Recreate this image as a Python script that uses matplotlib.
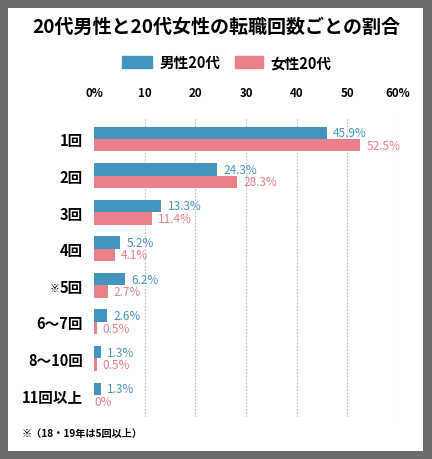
import matplotlib.pyplot as plt
from matplotlib.patches import Rectangle
import numpy as np

plt.rcParams['font.family'] = ['Noto Sans CJK JP', 'DejaVu Sans']

categories = ['1回', '2回', '3回', '4回', '※5回', '6〜7回', '8〜10回', '11回以上']
male = [45.9, 24.3, 13.3, 5.2, 6.2, 2.6, 1.3, 1.3]
female = [52.5, 28.3, 11.4, 4.1, 2.7, 0.5, 0.5, 0.0]
xticks = [0, 10, 20, 30, 40, 50, 60]
xticklabels = ['0%', '10', '20', '30', '40', '50', '60%']

blue = '#4394bf'
pink = '#ea808b'

fig = plt.figure(figsize=(4.32, 4.60), dpi=100)
fig.patch.set_facecolor('#6b6b6b')
fig.patches.append(Rectangle((8 / 432, 1 - 452 / 460), 415 / 432, 443 / 460,
                             transform=fig.transFigure, facecolor='white',
                             edgecolor='none', zorder=-5))

ax = fig.add_axes([94 / 432, 1 - 418 / 460, 304 / 432, 300 / 460])
ax.set_facecolor('none')

y = np.arange(len(categories))
h = 0.34
ax.barh(y - h / 2, male, height=h, color=blue, zorder=3)
ax.barh(y + h / 2, female, height=h, color=pink, zorder=3)

for i in range(len(categories)):
    ax.annotate(f'{male[i]:g}%', (male[i], y[i] - h / 2), xytext=(4.5, 0),
                textcoords='offset points', va='center', ha='left',
                fontsize=8.5, color='#4a95c0')
    ax.annotate(f'{female[i]:g}%', (female[i], y[i] + h / 2), xytext=(4.5 if female[i] > 0 else 0.5, 0),
                textcoords='offset points', va='center', ha='left',
                fontsize=8.5, color='#e77f8a')

ax.set_xlim(0, 60)
ax.set_ylim(len(categories) - 0.4, -0.6)
ax.set_xticks(xticks)
ax.set_xticklabels(xticklabels, fontsize=8.3, fontweight='bold')
ax.xaxis.tick_top()
ax.tick_params(axis='x', length=0, pad=13)
ax.set_yticks(y)
# the ※ mark is drawn small, apart from the label
ax.set_yticklabels([c.lstrip('※') for c in categories], fontsize=10.5, fontweight='bold')
ax.tick_params(axis='y', length=0, pad=8)
for i, c in enumerate(categories):
    if c.startswith('※'):
        ax.annotate('※', (0, y[i]), xytext=(-25, -2), textcoords='offset points',
                    ha='right', va='center', fontsize=7, fontweight='bold')
for x in xticks[1:]:
    ax.axvline(x, color='#bdbdbd', linestyle=(0, (1.5, 1.5)), linewidth=0.8, zorder=1)
for s in ax.spines.values():
    s.set_visible(False)

fig.text(0.5, 1 - 27 / 460, '20代男性と20代女性の転職回数ごとの割合', ha='center', va='center',
         fontsize=13.7, fontweight='bold')

# legend
fig.patches.append(Rectangle((122 / 432, 1 - 69 / 460), 30 / 432, 12 / 460,
                             transform=fig.transFigure, color=blue))
fig.text(160 / 432, 1 - 63 / 460, '男性20代', va='center', fontsize=10.5, fontweight='bold')
fig.patches.append(Rectangle((235 / 432, 1 - 69 / 460), 28 / 432, 12 / 460,
                             transform=fig.transFigure, color=pink))
fig.text(270 / 432, 1 - 63 / 460, '女性20代', va='center', fontsize=10.5, fontweight='bold')

fig.text(22 / 432, 1 - 434 / 460, '※（18・19年は5回以上）', va='center', fontsize=7.3, fontweight='bold')

fig.savefig('out.png', dpi=100, facecolor=fig.get_facecolor())
